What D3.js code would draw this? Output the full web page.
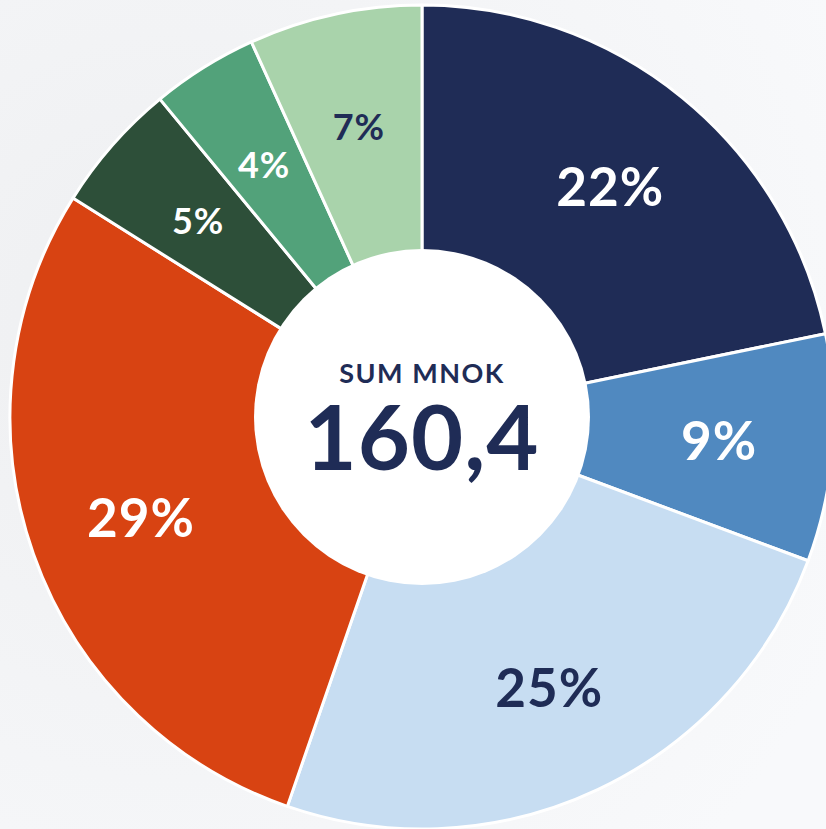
<!DOCTYPE html>
<html>
<head>
<meta charset="utf-8">
<script src="https://cdn.jsdelivr.net/npm/d3@7"></script>
<style>
  html, body { margin: 0; padding: 0; background: #f5f6f8; overflow: hidden; }
  text { font-family: Lato, "Noto Sans", sans-serif; }
</style>
</head>
<body>
<div id="root"></div>
<script>
// data (MNOK), clockwise from 12 o'clock
const categories = ["A", "B", "C", "D", "E", "F", "G"];
const values = [34.9, 14.3, 39.5, 45.9, 8.2, 6.7, 10.9];
const colors = ["#1f2c56", "#5089c0", "#c7ddf2", "#d84312", "#2d4f39", "#52a27a", "#a9d3ab"];
const labelColors = ["#fff", "#fff", "#1f2c56", "#fff", "#fff", "#fff", "#1f2c56"];
const totalLabel = "SUM MNOK";

window.onload = function() {
  init();
};

let init = () => {
  const width = 826, height = 829;
  const cx = 422, cy = 417;
  const outerR = 412, innerR = 168, labelR = 298;

  let svg = d3
    .select("#root")
    .append("svg")
    .attr("width", width)
    .attr("height", height);

  // soft background
  let defs = svg.append("defs");
  let bg = defs.append("radialGradient").attr("id", "bg").attr("cx", "20%").attr("cy", "40%").attr("r", "90%");
  bg.append("stop").attr("offset", "0%").attr("stop-color", "#eeeff1");
  bg.append("stop").attr("offset", "100%").attr("stop-color", "#f8f9fb");
  svg.append("rect").attr("width", width).attr("height", height).attr("fill", "url(#bg)");

  let data = categories.map((c, i) => ({ cat: c, value: values[i], i: i }));
  let total = d3.sum(values);
  let pie = d3.pie().sort(null).value(d => d.value);
  let arcs = pie(data);

  let arc = d3.arc().innerRadius(innerR - 4).outerRadius(outerR);
  let labelArc = d3.arc().innerRadius(labelR).outerRadius(labelR);

  let g = svg.append("g").attr("transform", `translate(${cx},${cy})`);

  // slices
  g.selectAll("path.slice")
    .data(arcs)
    .enter()
    .append("path")
    .attr("class", "slice")
    .attr("d", arc)
    .attr("fill", d => colors[d.data.i])
    .attr("stroke", "#ffffff")
    .attr("stroke-width", 3)
    .attr("stroke-linejoin", "round");

  // centre disc
  g.append("circle").attr("r", innerR).attr("fill", "#ffffff");

  // percent labels
  let fmt = d => Math.round((d.data.value / total) * 100) + "%";
  g.selectAll("text.pct")
    .data(arcs)
    .enter()
    .append("text")
    .attr("class", "pct")
    .attr("transform", d => {
      let p = labelArc.centroid(d);
      return `translate(${p[0]},${p[1]})`;
    })
    .attr("text-anchor", "middle")
    .attr("dominant-baseline", "central")
    .attr("fill", d => labelColors[d.data.i])
    .attr("font-weight", 700)
    .attr("letter-spacing", 1)
    .attr("font-size", d => (d.data.value / total < 0.08 ? 36 : 53))
    .text(fmt);

  // centre text
  g.append("text")
    .attr("y", -34)
    .attr("text-anchor", "middle")
    .attr("fill", "#1f2c56")
    .attr("font-size", 27)
    .attr("font-weight", 700)
    .attr("letter-spacing", 1.5)
    .text(totalLabel);

  g.append("text")
    .attr("y", 53)
    .attr("text-anchor", "middle")
    .attr("fill", "#1f2c56")
    .attr("font-size", 90)
    .attr("font-weight", 700)
    .attr("letter-spacing", 1)
    .text(d3.format(".1f")(total).replace(".", ","));
};
</script>
</body>
</html>
